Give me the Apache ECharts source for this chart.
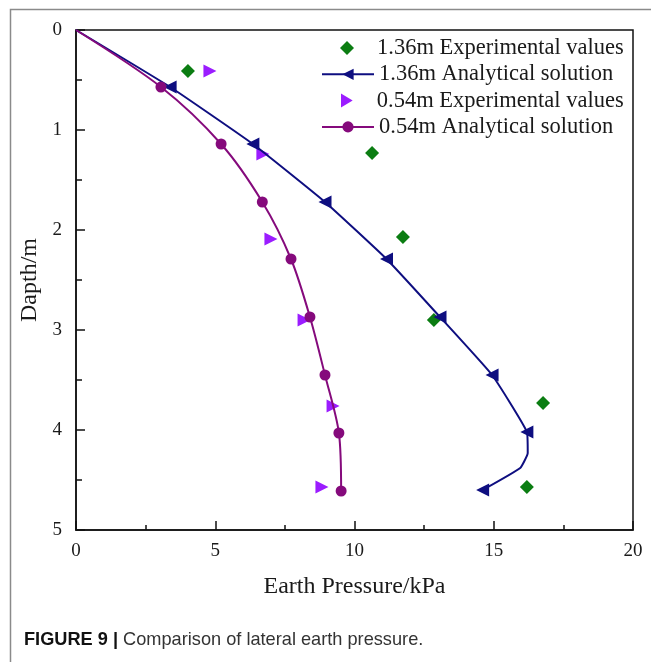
<!DOCTYPE html>
<html>
<head>
<meta charset="utf-8">
<script src="https://cdn.jsdelivr.net/npm/echarts@6/dist/echarts.min.js"></script>
<style>
  html, body { margin: 0; padding: 0; background: #fff; }
  #chart { width: 651px; height: 662px; }
</style>
</head>
<body>
<div id="chart"></div>
<script>
// Depth (m) vs. earth pressure (kPa)
const exp136Pressure = [4.02, 10.63, 11.74, 12.85, 16.77, 16.19]
const exp136Depth = [0.41, 1.23, 2.07, 2.90, 3.73, 4.57]

const ana136Pressure = [0, 3.38, 6.35, 8.94, 11.15, 13.07, 14.94, 16.19, 16.22, 15.95, 14.6]
const ana136Depth = [0, 0.57, 1.14, 1.72, 2.29, 2.87, 3.45, 4.02, 4.23, 4.38, 4.6]
const ana136Marked = [false, true, true, true, true, true, true, true, false, false, true]

const exp054Pressure = [4.81, 6.71, 7.0, 8.19, 9.23, 8.83]
const exp054Depth = [0.41, 1.24, 2.09, 2.90, 3.76, 4.57]

const ana054Pressure = [0, 3.05, 5.21, 6.69, 7.72, 8.40, 8.94, 9.44, 9.52]
const ana054Depth = [0, 0.57, 1.14, 1.72, 2.29, 2.87, 3.45, 4.03, 4.61]
const ana054Marked = [false, true, true, true, true, true, true, true, true]

const seriesNames = [
  '1.36m Experimental values',
  '1.36m Analytical solution',
  '0.54m Experimental values',
  '0.54m Analytical solution'
]

const pairs = (xs, ys) => xs.map((x, i) => [x, ys[i]])
const markedPairs = (xs, ys, marked) => xs.map((x, i) => (
  marked[i] ? [x, ys[i]] : { value: [x, ys[i]], symbol: 'none' }
))

const serif = 'Liberation Serif'
const chart = echarts.init(document.getElementById('chart'))

// one legend per row so marker-only rows keep a square icon
const legendRowTops = [31.5, 57.8, 84.1, 110.4]
const legendLeft = [335, 316, 336, 316]
const legendWidth = [14, 52, 12, 52]
const legendPad = [18, 0, 19, 0]
const rightTriangle = 'path://M0,0 L10,6 L0,12 Z'
const makeLegend = (i) => ({
  orient: 'vertical',
  left: legendLeft[i],
  top: legendRowTops[i],
  itemWidth: legendWidth[i],
  itemHeight: 14,
  data: [i === 2 ? { name: seriesNames[i], icon: rightTriangle } : seriesNames[i]],
  textStyle: {
    fontFamily: serif,
    fontSize: 22.5,
    lineHeight: 22,
    color: '#1a1a1a',
    padding: [0, 0, 0, legendPad[i]]
  }
})

const option = {
  backgroundColor: '#fff',
  animation: false,
  grid: {
    left: 76,
    right: 18,
    top: 30,
    bottom: 132,
    show: true,
    borderColor: '#111',
    borderWidth: 1.5
  },
  legend: [0, 1, 2, 3].map(makeLegend),
  xAxis: {
    type: 'value',
    min: 0,
    max: 20,
    interval: 5,
    name: 'Earth Pressure/kPa',
    nameLocation: 'middle',
    nameGap: 45,
    nameTextStyle: { fontFamily: serif, fontSize: 24, color: '#1a1a1a' },
    axisLine: { onZero: false, lineStyle: { color: '#111', width: 1.5 } },
    axisTick: { inside: true, length: 9, lineStyle: { color: '#111', width: 1.5 } },
    minorTick: { show: true, splitNumber: 2, length: 5, lineStyle: { color: '#111', width: 1.5 } },
    axisLabel: { fontFamily: serif, fontSize: 19, color: '#1a1a1a', margin: 12 },
    splitLine: { show: false }
  },
  yAxis: {
    type: 'value',
    min: 0,
    max: 5,
    interval: 1,
    inverse: true,
    name: 'Dapth/m',
    nameLocation: 'middle',
    nameGap: 30,
    nameTextStyle: { fontFamily: serif, fontSize: 24, color: '#1a1a1a' },
    axisLine: { onZero: false, lineStyle: { color: '#111', width: 1.5 } },
    axisTick: { inside: true, length: 9, lineStyle: { color: '#111', width: 1.5 } },
    minorTick: { show: true, splitNumber: 2, length: 6, lineStyle: { color: '#111', width: 1.5 } },
    axisLabel: { fontFamily: serif, fontSize: 19, color: '#1a1a1a', margin: 14 },
    splitLine: { show: false }
  },
  series: [
    {
      name: seriesNames[0],
      type: 'scatter',
      symbol: 'diamond',
      symbolSize: 14,
      itemStyle: { color: '#0b7d12', opacity: 1 },
      data: pairs(exp136Pressure, exp136Depth)
    },
    {
      name: seriesNames[1],
      type: 'line',
      smooth: 0.12,
      symbol: 'triangle',
      symbolRotate: 90,
      symbolSize: 13,
      lineStyle: { color: '#0e0e80', width: 2 },
      itemStyle: { color: '#0e0e80' },
      data: markedPairs(ana136Pressure, ana136Depth, ana136Marked)
    },
    {
      name: seriesNames[2],
      type: 'scatter',
      symbol: 'triangle',
      symbolRotate: -90,
      symbolSize: 13,
      itemStyle: { color: '#9b1cff', opacity: 1 },
      data: pairs(exp054Pressure, exp054Depth)
    },
    {
      name: seriesNames[3],
      type: 'line',
      smooth: 0.3,
      symbol: 'circle',
      symbolSize: 11,
      lineStyle: { color: '#850a7c', width: 2 },
      itemStyle: { color: '#850a7c' },
      data: markedPairs(ana054Pressure, ana054Depth, ana054Marked)
    }
  ],
  graphic: [
    {
      type: 'rect',
      left: 8,
      top: 7,
      shape: { width: 700, height: 700 },
      style: { fill: 'none', stroke: '#8a8a8a', lineWidth: 1.5 },
      silent: true
    },
    {
      type: 'text',
      left: 24,
      top: 631,
      style: {
        text: '{b|FIGURE 9 |} Comparison of lateral earth pressure.',
        fontFamily: 'Liberation Sans',
        fontSize: 18.2,
        fill: '#333',
        rich: {
          b: { fontFamily: 'Liberation Sans', fontSize: 18.2, fontWeight: 'bold', fill: '#111' }
        }
      }
    }
  ]
}

chart.setOption(option)
window.addEventListener('resize', () => chart.resize())
</script>
</body>
</html>
